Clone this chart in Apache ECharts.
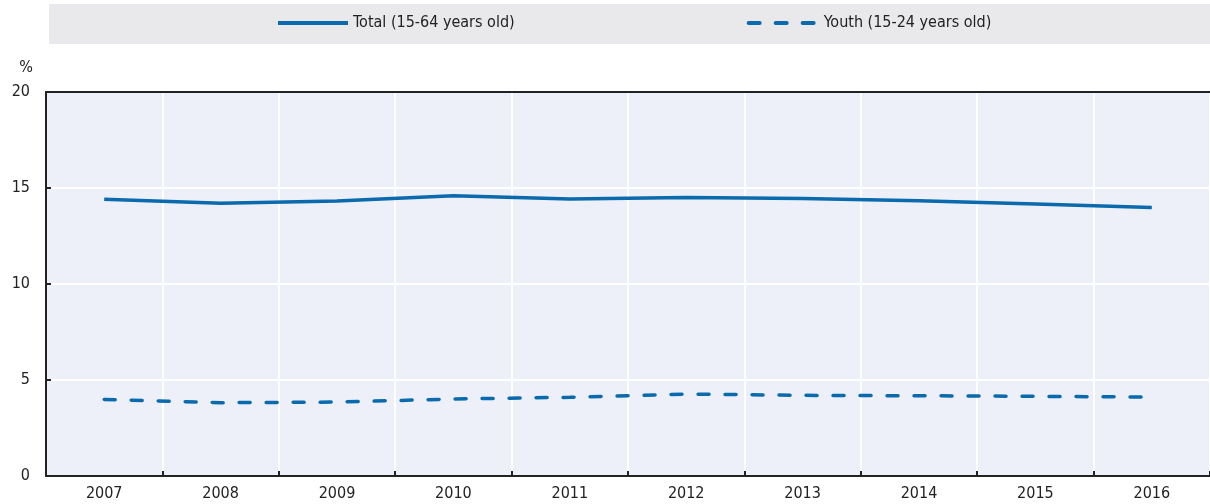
<!DOCTYPE html>
<html>
<head>
<meta charset="utf-8">
<script src="https://cdn.jsdelivr.net/npm/echarts@6/dist/echarts.min.js"></script>
<style>
  html, body { margin: 0; padding: 0; background: #fff; }
  #chart { width: 1210px; height: 504px; }
</style>
</head>
<body>
<div id="chart"></div>
<script>
// Share of population, in %
const years = ['2007', '2008', '2009', '2010', '2011', '2012', '2013', '2014', '2015', '2016'];
const totalValues = [14.41, 14.20, 14.32, 14.60, 14.43, 14.50, 14.45, 14.34, 14.17, 13.98];
const youthValues = [3.99, 3.82, 3.85, 4.01, 4.10, 4.27, 4.20, 4.18, 4.15, 4.11];
const totalName = 'Total (15-64 years old)';
const youthName = 'Youth (15-24 years old)';
const yTicks = [0, 5, 10, 15, 20];

const FONT = '"Liberation Sans Narrow", "DejaVu Sans Condensed", "Liberation Sans", sans-serif';
const BLUE = '#0a6aae';
const INK = '#222222';

const chart = echarts.init(document.getElementById('chart'), null, { renderer: 'canvas' });

chart.setOption({
  animation: false,
  textStyle: { fontFamily: FONT },
  graphic: [{
    type: 'rect',
    left: 49, top: 4,
    shape: { width: 1161, height: 40 },
    style: { fill: '#e9e9ec' },
    z: -1
  }],
  legend: {
    left: 271, top: 10,
    itemWidth: 70, itemHeight: 20,
    itemGap: 232,
    itemStyle: { opacity: 0 },
    lineStyle: { width: 4 },
    textStyle: { fontFamily: FONT, fontSize: 16, color: INK },
    data: [totalName, youthName]
  },
  grid: {
    left: 46, right: 0, top: 92, bottom: 28,
    show: true, backgroundColor: '#edf0f8', borderWidth: 0,
    containLabel: false
  },
  xAxis: [{
    type: 'category',
    data: years,
    boundaryGap: true,
    axisLine: { show: true, lineStyle: { color: '#222', width: 2 } },
    axisTick: { show: true, inside: true, length: 5, alignWithLabel: false, lineStyle: { color: '#222', width: 2 } },
    axisLabel: { fontFamily: FONT, fontSize: 16, color: INK, margin: 10 },
    splitLine: { show: true, lineStyle: { color: '#ffffff', width: 2 } }
  }, {
    type: 'category',
    data: years,
    position: 'top',
    axisLine: { show: true, lineStyle: { color: '#222', width: 2 } },
    axisTick: { show: false },
    axisLabel: { show: false },
    splitLine: { show: false }
  }],
  yAxis: {
    type: 'value',
    min: yTicks[0], max: yTicks[yTicks.length - 1], interval: 5,
    name: '%',
    nameLocation: 'end',
    nameGap: 16,
    nameTextStyle: { fontFamily: FONT, fontSize: 16, color: INK, align: 'right', padding: [0, 13, 0, 0] },
    axisLine: { show: true, lineStyle: { color: '#222', width: 2 } },
    axisTick: { show: true, inside: true, length: 5, lineStyle: { color: '#222', width: 2 } },
    axisLabel: { fontFamily: FONT, fontSize: 16, color: INK, margin: 16 },
    splitLine: { show: true, lineStyle: { color: '#ffffff', width: 2 } }
  },
  series: [{
    name: totalName,
    type: 'line',
    data: totalValues,
    symbol: 'none',
    smooth: false,
    lineStyle: { color: BLUE, width: 3.5 },
    itemStyle: { color: BLUE }
  }, {
    name: youthName,
    type: 'line',
    data: youthValues,
    symbol: 'none',
    smooth: false,
    lineStyle: { color: BLUE, width: 3.5, type: [11, 16], cap: 'round' },
    itemStyle: { color: BLUE }
  }]
});
</script>
</body>
</html>
